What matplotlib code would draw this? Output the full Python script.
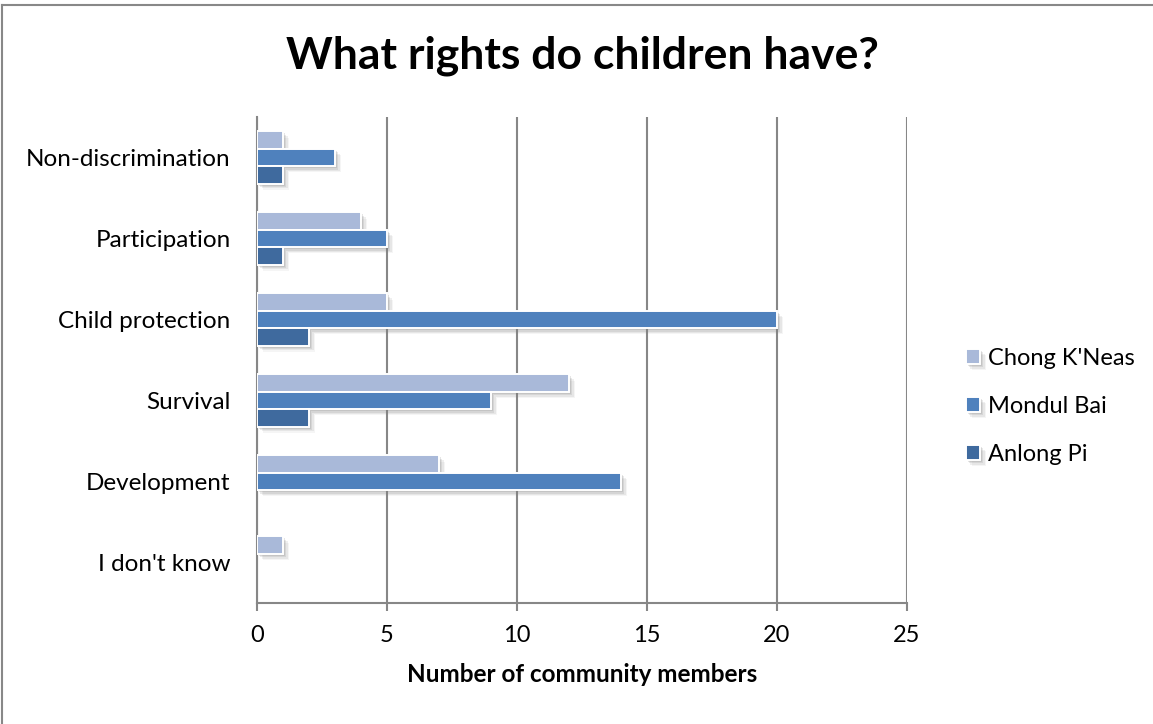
import matplotlib
matplotlib.use("Agg")
import matplotlib.pyplot as plt
import matplotlib.patheffects as pe
from matplotlib.lines import Line2D
import numpy as np

categories = ["Non-discrimination", "Participation", "Child protection",
              "Survival", "Development", "I don't know"]
series_names = ["Chong K'Neas", "Mondul Bai", "Anlong Pi"]
chong_kneas = [1, 4, 5, 12, 7, 1]
mondul_bai = [3, 5, 20, 9, 14, 0]
anlong_pi = [1, 1, 2, 2, 0, 0]
series_values = [chong_kneas, mondul_bai, anlong_pi]
colors = ["#A9B9D9", "#4F81BD", "#3F6A9E"]
x_ticks = [0, 5, 10, 15, 20, 25]

plt.rcParams["font.family"] = ["Lato", "DejaVu Sans"]

fig = plt.figure(figsize=(11.53, 7.24), dpi=100)
ax = fig.add_axes([257 / 1153, 1 - 603 / 724, 650 / 1153, 486 / 724])

y = np.arange(len(categories))
bar_h = 0.215
offsets = [-bar_h, 0.0, bar_h]
# soft drop shadow built from several faint offset copies
shadow = [pe.SimplePatchShadow(offset=(d, -d), shadow_rgbFace="#808080", alpha=a)
          for d, a in [(4.5, 0.08), (3.5, 0.12), (2.5, 0.16), (1.5, 0.2)]]
shadow.append(pe.Normal())

for name, vals, col, off in zip(series_names, series_values, colors, offsets):
    bars = ax.barh(y + off, vals, height=bar_h, color=col, edgecolor="white",
                   linewidth=1.4, label=name, zorder=3)
    for b, v in zip(bars, vals):
        if v > 0:
            b.set_path_effects(shadow)
        else:
            b.set_visible(False)

ax.set_xlim(0, 25)
ax.set_ylim(len(categories) - 0.5, -0.5)
ax.set_xticks(x_ticks)
ax.set_yticks(y)
ax.set_yticklabels(categories)

ax.grid(axis="x", color="#878787", linewidth=1.5, zorder=0)
ax.set_axisbelow(True)
for s in ["top", "right"]:
    ax.spines[s].set_visible(False)
for s in ["left", "bottom"]:
    ax.spines[s].set_color("#878787")
    ax.spines[s].set_linewidth(1.5)

ax.tick_params(axis="x", length=6, width=1.5, color="#878787", pad=10,
               labelsize=17, labelcolor="black")
ax.tick_params(axis="y", length=0, pad=19, labelsize=17.5, labelcolor="black")

ax.set_xlabel("Number of community members", fontsize=17.5, fontweight="bold",
              labelpad=12)

fig.text(0.505, 0.923, "What rights do children have?", ha="center", va="center",
         fontsize=32, fontweight="bold")

leg = fig.legend(loc="center left", bbox_to_anchor=(0.819, 0.439), frameon=False,
                 fontsize=17, handlelength=0.6, handleheight=0.6,
                 handletextpad=0.35, labelspacing=1.15)

# outer chart border (top and left edges)
fig.add_artist(Line2D([2 / 1153, 1], [1 - 5 / 724, 1 - 5 / 724], color="#888888",
                      linewidth=1.5, transform=fig.transFigure))
fig.add_artist(Line2D([2 / 1153, 2 / 1153], [0, 1 - 5 / 724], color="#888888",
                      linewidth=1.5, transform=fig.transFigure))

fig.savefig("out.png", dpi=100, facecolor="white")
